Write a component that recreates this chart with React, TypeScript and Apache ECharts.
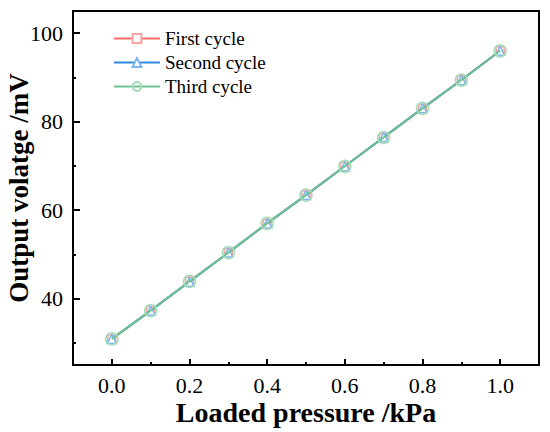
import React, { useEffect, useRef } from "react";
import * as echarts from "echarts";

const pressure = [0.0, 0.1, 0.2, 0.3, 0.4, 0.5, 0.6, 0.7, 0.8, 0.9, 1.0];
const firstCycle = [30.9, 37.3, 43.9, 50.4, 57.0, 63.4, 69.9, 76.4, 83.0, 89.4, 96.0];
const secondCycle = [30.9, 37.3, 43.8, 50.4, 57.0, 63.4, 69.9, 76.5, 83.0, 89.4, 96.0];
const thirdCycle = [30.9, 37.3, 43.9, 50.4, 57.0, 63.4, 69.9, 76.4, 83.0, 89.4, 96.0];
const xMajorTicks = [0.0, 0.2, 0.4, 0.6, 0.8, 1.0];
const xMinorTicks = [0.1, 0.3, 0.5, 0.7, 0.9];
const yMajorTicks = [40, 60, 80, 100];
const yMinorTicks = [30, 50, 70, 90];

const FONT = "'Times New Roman', 'Liberation Serif', serif";

export default function App() {
  const ref = useRef<HTMLDivElement>(null);
  useEffect(() => {
    if (!ref.current) return;
    document.body.style.margin = "0";
    const chart = echarts.init(ref.current, null, { renderer: "svg" });
    const pairs = (ys: number[]) => pressure.map((x, i) => [x, ys[i]]);
    chart.setOption({
      animation: false,
      backgroundColor: "#fff",
      grid: {
        left: 73,
        right: 11,
        top: 11,
        bottom: 67,
        show: true,
        borderColor: "#000",
        borderWidth: 2,
        outerBoundsMode: "none",
        containLabel: false,
      },
      legend: {
        orient: "vertical",
        left: 108,
        top: 24,
        itemWidth: 46,
        itemHeight: 11,
        itemGap: 5,
        textStyle: { fontFamily: FONT, fontSize: 19, color: "#000" },
        data: ["First cycle", "Second cycle", "Third cycle"],
      },
      xAxis: [
        {
          type: "value",
          min: -0.1,
          max: 1.1,
          name: "Loaded pressure /kPa",
          nameLocation: "middle",
          nameGap: 33,
          nameMoveOverlap: false,
          nameTextStyle: { fontFamily: FONT, fontSize: 28, fontWeight: "bold", color: "#000" },
          splitLine: { show: false },
          axisLine: { show: true, onZero: false, lineStyle: { color: "#000", width: 2 } },
          axisTick: {
            show: true,
            inside: true,
            length: 6,
            customValues: xMajorTicks,
            lineStyle: { color: "#000", width: 2 },
          },
          axisLabel: {
            customValues: xMajorTicks,
            margin: 9,
            fontFamily: FONT,
            fontSize: 22,
            color: "#000",
            formatter: (v: number) => v.toFixed(1),
          },
        },
        {
          type: "value",
          min: -0.1,
          max: 1.1,
          position: "bottom",
          splitLine: { show: false },
          axisLine: { show: false, onZero: false },
          axisTick: {
            show: true,
            inside: true,
            length: 3,
            customValues: xMinorTicks,
            lineStyle: { color: "#000", width: 2 },
          },
          axisLabel: { show: false },
        },
      ],
      yAxis: [
        {
          type: "value",
          min: 25,
          max: 105,
          name: "Output volatge /mV",
          nameLocation: "middle",
          nameGap: 41,
          nameMoveOverlap: false,
          nameTextStyle: { fontFamily: FONT, fontSize: 27, fontWeight: "bold", color: "#000" },
          splitLine: { show: false },
          axisLine: { show: true, onZero: false, lineStyle: { color: "#000", width: 2 } },
          axisTick: {
            show: true,
            inside: true,
            length: 7,
            customValues: yMajorTicks,
            lineStyle: { color: "#000", width: 2 },
          },
          axisLabel: {
            customValues: yMajorTicks,
            margin: 10,
            fontFamily: FONT,
            fontSize: 22,
            color: "#000",
          },
        },
        {
          type: "value",
          min: 25,
          max: 105,
          position: "left",
          splitLine: { show: false },
          axisLine: { show: false, onZero: false },
          axisTick: {
            show: true,
            inside: true,
            length: 3,
            customValues: yMinorTicks,
            lineStyle: { color: "#000", width: 2 },
          },
          axisLabel: { show: false },
        },
      ],
      series: [
        {
          name: "First cycle",
          type: "line",
          data: pairs(firstCycle),
          symbol: "rect",
          symbolSize: 8,
          lineStyle: { color: "#ff6b6b", width: 2 },
          itemStyle: { color: "#ffffff", borderColor: "#f7a1a1", borderWidth: 1.5 },
          z: 2,
        },
        {
          name: "Second cycle",
          type: "line",
          data: pairs(secondCycle),
          symbol: "triangle",
          symbolSize: 9,
          lineStyle: { color: "#2f8be3", width: 2 },
          itemStyle: { color: "#ffffff", borderColor: "#7db5ee", borderWidth: 1.5 },
          z: 3,
        },
        {
          name: "Third cycle",
          type: "line",
          data: pairs(thirdCycle),
          symbol: "circle",
          symbolSize: 12,
          lineStyle: { color: "#6dc38f", width: 2 },
          itemStyle: { color: "rgba(255,255,255,0)", borderColor: "#a5dcb8", borderWidth: 1.5 },
          z: 4,
        },
      ],
    });
    return () => chart.dispose();
  }, []);
  return <div ref={ref} style={{ width: 550, height: 432 }} />;
}
